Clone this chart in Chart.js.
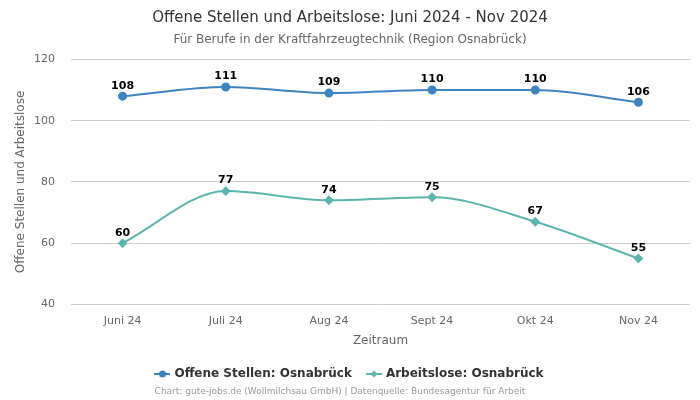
<!DOCTYPE html>
<html>
<head>
<meta charset="utf-8">
<script src="https://cdn.jsdelivr.net/npm/chart.js@4/dist/chart.umd.min.js"></script>
<style>
  html, body { margin: 0; padding: 0; background: #fff; }
  #wrap { width: 700px; height: 400px; }
</style>
</head>
<body>
<div id="wrap"><canvas id="chart" width="700" height="400"></canvas></div>
<script>
const months = ['Juni 24', 'Juli 24', 'Aug 24', 'Sept 24', 'Okt 24', 'Nov 24'];
const offeneStellen = [108, 111, 109, 110, 110, 106];
const arbeitslose = [60, 77, 74, 75, 67, 55];
const yTicks = [40, 60, 80, 100, 120];

const BLUE = '#3d83bf';
const TEAL = '#5cb5ad';
const FONT = "'DejaVu Sans', sans-serif";

// small legend icons: line with marker in the middle
function legendIcon(color, shape) {
  const c = document.createElement('canvas');
  c.width = 16; c.height = 10;
  const g = c.getContext('2d');
  g.strokeStyle = color;
  g.lineWidth = 2;
  g.beginPath(); g.moveTo(0, 5); g.lineTo(16, 5); g.stroke();
  g.fillStyle = color;
  g.beginPath();
  if (shape === 'circle') {
    g.arc(8, 5, 3.5, 0, Math.PI * 2);
  } else {
    g.moveTo(8, 1.5); g.lineTo(11.5, 5); g.lineTo(8, 8.5); g.lineTo(4.5, 5); g.closePath();
  }
  g.fill();
  return c;
}

const valueLabels = {
  id: 'valueLabels',
  afterDatasetsDraw(chart) {
    const ctx = chart.ctx;
    ctx.save();
    ctx.font = 'bold 11px ' + FONT;
    ctx.fillStyle = '#000';
    ctx.textAlign = 'center';
    ctx.textBaseline = 'bottom';
    chart.data.datasets.forEach((ds, i) => {
      chart.getDatasetMeta(i).data.forEach((pt, j) => {
        ctx.fillText(ds.data[j], pt.x, pt.y - 5);
      });
    });
    ctx.restore();
  }
};

const footer = {
  id: 'footer',
  afterDraw(chart) {
    const ctx = chart.ctx;
    ctx.save();
    ctx.font = '9px ' + FONT;
    ctx.fillStyle = '#999';
    ctx.textAlign = 'center';
    ctx.textBaseline = 'middle';
    ctx.fillText('Chart: gute-jobs.de (Wollmilchsau GmbH) | Datenquelle: Bundesagentur für Arbeit', 340, 392);
    ctx.restore();
  }
};

new Chart(document.getElementById('chart'), {
  type: 'line',
  data: {
    labels: months,
    datasets: [{
      label: 'Offene Stellen: Osnabrück',
      data: offeneStellen,
      borderColor: BLUE,
      backgroundColor: BLUE,
      borderWidth: 2,
      pointStyle: 'circle',
      pointRadius: 3.5,
      pointHoverRadius: 3.5,
      cubicInterpolationMode: 'monotone',
      fill: false
    }, {
      label: 'Arbeitslose: Osnabrück',
      data: arbeitslose,
      borderColor: TEAL,
      backgroundColor: TEAL,
      borderWidth: 2,
      pointStyle: 'rectRot',
      pointRadius: 3.5,
      pointHoverRadius: 3.5,
      cubicInterpolationMode: 'monotone',
      fill: false
    }]
  },
  options: {
    responsive: false,
    animation: false,
    layout: { padding: { left: 10, right: 10, bottom: 10 } },
    plugins: {
      title: {
        display: true,
        text: 'Offene Stellen und Arbeitslose: Juni 2024 - Nov 2024',
        color: '#333',
        font: { family: FONT, size: 15, weight: 'normal' },
        padding: { top: 9, bottom: 4 }
      },
      subtitle: {
        display: true,
        text: 'Für Berufe in der Kraftfahrzeugtechnik (Region Osnabrück)',
        color: '#666',
        font: { family: FONT, size: 12 },
        padding: { top: 2, bottom: 12 }
      },
      legend: {
        position: 'bottom',
        labels: {
          color: '#333',
          font: { family: FONT, size: 12, weight: 'bold' },
          usePointStyle: true,
          boxWidth: 16,
          padding: 16,
          generateLabels(chart) {
            return chart.data.datasets.map((ds, i) => ({
              text: ds.label,
              fontColor: '#333',
              datasetIndex: i,
              hidden: false,
              lineWidth: 0,
              pointStyle: legendIcon(ds.borderColor, i === 0 ? 'circle' : 'diamond')
            }));
          }
        }
      },
      tooltip: { enabled: false }
    },
    scales: {
      x: {
        offset: true,
        grid: { display: false },
        border: { display: false },
        ticks: { color: '#666', font: { family: FONT, size: 11 }, padding: 2 },
        title: {
          display: true,
          text: 'Zeitraum',
          color: '#666',
          font: { family: FONT, size: 12 },
          padding: { top: 4 }
        }
      },
      y: {
        min: yTicks[0],
        max: yTicks[yTicks.length - 1],
        afterBuildTicks(axis) { axis.ticks = yTicks.map(v => ({ value: v })); },
        afterFit(axis) { axis.width = 61; },
        grid: { color: '#cccccc', drawTicks: false },
        border: { display: false },
        ticks: { color: '#666', font: { family: FONT, size: 11 }, padding: 16 },
        title: {
          display: true,
          text: 'Offene Stellen und Arbeitslose',
          color: '#666',
          font: { family: FONT, size: 12 }
        }
      }
    }
  },
  plugins: [valueLabels, footer]
});
</script>
</body>
</html>
